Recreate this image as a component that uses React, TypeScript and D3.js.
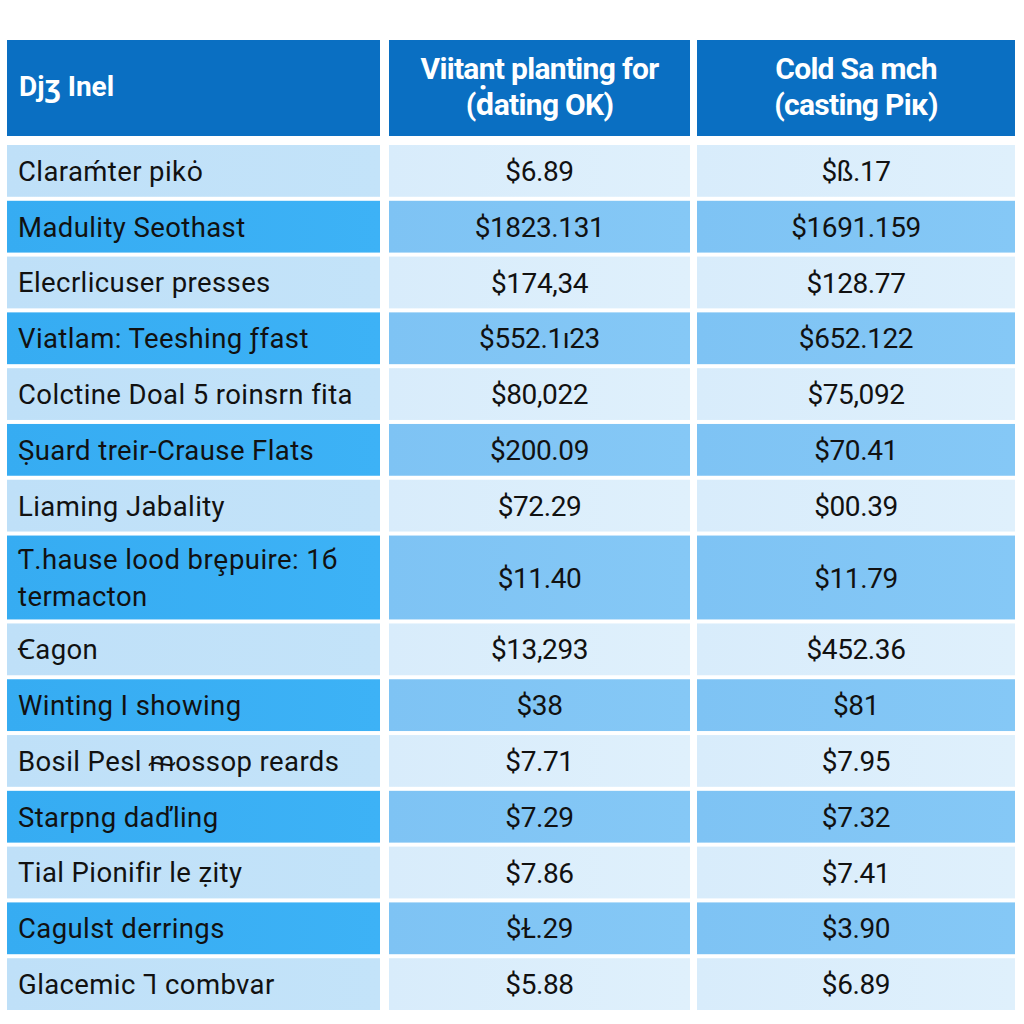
import React from "react";
import * as d3 from "d3";

const headers = ["Djʒ Inel", "Viitant planting for\n(ḋating OK)", "Cold Sa mch\n(casting Piĸ)"];
const categories = [
  "Claraḿter pikȯ",
  "Madulity Seothast",
  "Elecrlicuser presses",
  "Viatlam: Teeshing ƒfast",
  "Colctine Doal 5 roinsrn fita",
  "Ṣuard treir-Crause Flats",
  "Liaming Jabality",
  "Ƭ.hause lood brȩpuire: 1б\ntermacton",
  "Ꞓagon",
  "Winting I showing",
  "Bosil Pesl ᵯossop reards",
  "Starpng daďling",
  "Tial Pionifir le ẓity",
  "Cagulst derrings",
  "Glacemic Ꞁ combvar",
];
const seriesA = ["$6.89", "$1823.131", "$174,34", "$552.1ı23", "$80,022", "$200.09", "$72.29", "$11.40", "$13,293", "$38", "$7.71", "$7.29", "$7.86", "$Ɫ.29", "$5.88"];
const seriesB = ["$ß.17", "$1691.159", "$128.77", "$652.122", "$75,092", "$70.41", "$00.39", "$11.79", "$452.36", "$81", "$7.95", "$7.32", "$7.41", "$3.90", "$6.89"];

const W = 1024, H = 1024;
const colX = [7, 389, 697];
const colR = [380, 690, 1015];
const headTop = 40, headBot = 136;
const bodyTop = 145, bodyBot = 1010;
const gap = 4;

export default function App() {
  const weights = categories.map((c) => (c.includes("\n") ? 1.62 : 1));
  const total = d3.sum(weights);
  const unit = (bodyBot - bodyTop - gap * (categories.length - 1)) / total;
  const cum = d3.cumsum(weights);
  const y = d3.scaleLinear().domain([0, total]).range([bodyTop, bodyTop + unit * total]);
  const rows = categories.map((c, i) => {
    const start = i === 0 ? 0 : cum[i - 1];
    const y0 = y(start) + gap * i;
    const h = unit * weights[i];
    return { c, a: seriesA[i], b: seriesB[i], y0, h, dark: i % 2 === 1 };
  });
  const font = "Roboto, 'Noto Sans', sans-serif";
  return (
    <svg width={W} height={H} style={{ position: "absolute", left: 0, top: 0, background: "#fff" }}>
      <defs>
        <linearGradient id="lightA" x1="0" x2="1" y1="0" y2="0">
          <stop offset="0" stopColor="#BFE0F8" />
          <stop offset="1" stopColor="#C3E3F9" />
        </linearGradient>
        <linearGradient id="lightB" x1="0" x2="1" y1="0" y2="0">
          <stop offset="0" stopColor="#D8ECFB" />
          <stop offset="1" stopColor="#DFF0FC" />
        </linearGradient>
        <linearGradient id="darkA" x1="0" x2="1" y1="0" y2="0">
          <stop offset="0" stopColor="#36ACF2" />
          <stop offset="1" stopColor="#3DB2F6" />
        </linearGradient>
        <linearGradient id="darkB" x1="0" x2="1" y1="0" y2="0">
          <stop offset="0" stopColor="#7EC3F4" />
          <stop offset="1" stopColor="#85C8F6" />
        </linearGradient>
      </defs>
      <rect x={0} y={0} width={W} height={H} fill="#fff" />
      {headers.map((h, j) => {
        const lines = h.split("\n");
        const cx = j === 0 ? colX[0] + 12 : (colX[j] + colR[j]) / 2;
        const cy = (headTop + headBot) / 2 - 2;
        return (
          <g key={"h" + j}>
            <rect x={colX[j]} y={headTop} width={colR[j] - colX[j]} height={headBot - headTop} fill="#0A6FC2" />
            {lines.map((l, k) => (
              <text
                key={k}
                x={cx}
                y={cy + (k - (lines.length - 1) / 2) * 36}
                dy="0.36em"
                fill="#fff"
                fontFamily={font}
                fontWeight={700}
                fontSize={j === 0 ? 28 : 30}
                letterSpacing={j === 0 ? 0 : -0.7}
                textAnchor={j === 0 ? "start" : "middle"}
              >
                {l}
              </text>
            ))}
          </g>
        );
      })}
      {rows.map((r, i) => {
        const lines = r.c.split("\n");
        const cy = r.y0 + r.h / 2;
        return (
          <g key={i}>
            <rect x={colX[0]} y={r.y0} width={colR[0] - colX[0]} height={r.h} fill={r.dark ? "url(#darkA)" : "url(#lightA)"} />
            <rect x={colX[1]} y={r.y0} width={colR[1] - colX[1]} height={r.h} fill={r.dark ? "url(#darkB)" : "url(#lightB)"} />
            <rect x={colX[2]} y={r.y0} width={colR[2] - colX[2]} height={r.h} fill={r.dark ? "url(#darkB)" : "url(#lightB)"} />
            {lines.map((l, k) => (
              <text
                key={k}
                x={colX[0] + 11}
                y={cy + (k - (lines.length - 1) / 2) * 37}
                dy="0.36em"
                fill="#111"
                fontFamily={font}
                fontSize={27.5}
                letterSpacing={0.4}
              >
                {l}
              </text>
            ))}
            <text x={(colX[1] + colR[1]) / 2} y={cy} dy="0.36em" textAnchor="middle" fill="#111" fontFamily={font} fontSize={28} letterSpacing={-0.4}>
              {r.a}
            </text>
            <text x={(colX[2] + colR[2]) / 2} y={cy} dy="0.36em" textAnchor="middle" fill="#111" fontFamily={font} fontSize={28} letterSpacing={-0.4}>
              {r.b}
            </text>
          </g>
        );
      })}
    </svg>
  );
}
